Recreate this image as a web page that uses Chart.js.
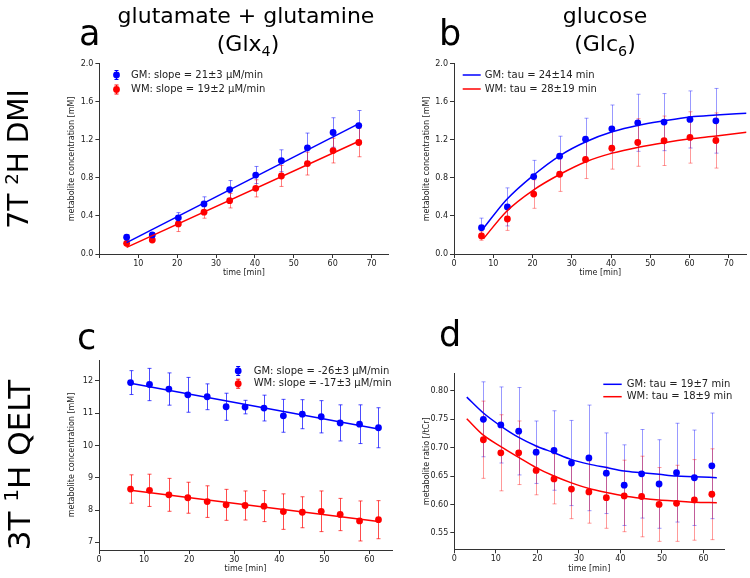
<!DOCTYPE html>
<html>
<head>
<meta charset="utf-8">
<script src="https://cdn.jsdelivr.net/npm/chart.js@4.4.1/dist/chart.umd.min.js"></script>
<style>
  body { margin: 0; width: 750px; height: 578px; background: #fff; position: relative; overflow: hidden;
         font-family: "DejaVu Sans", sans-serif; color: #000; }
  canvas { position: absolute; left: 0; top: 0; }
  .lbl { position: absolute; line-height: 1; white-space: nowrap; }
  .letter { font-size: 35px; }
  .ttl { font-size: 22px; transform: translateX(-50%); }
  .row { font-size: 28px; transform: translate(-50%, -50%) rotate(-90deg); }
  sub, sup { font-size: 0.65em; line-height: 0; }
</style>
</head>
<body>
<canvas id="chartA" width="750" height="578"></canvas>
<canvas id="chartB" width="750" height="578"></canvas>
<canvas id="chartC" width="750" height="578"></canvas>
<canvas id="chartD" width="750" height="578"></canvas>

<div class="lbl letter" style="left:79px; top:16px;">a</div>
<div class="lbl ttl" style="left:246px; top:5px;">glutamate + glutamine</div>
<div class="lbl ttl" style="left:248px; top:33px;">(Glx<sub>4</sub>)</div>
<div class="lbl letter" style="left:439px; top:16px;">b</div>
<div class="lbl ttl" style="left:605px; top:5px;">glucose</div>
<div class="lbl ttl" style="left:605px; top:33px;">(Glc<sub>6</sub>)</div>
<div class="lbl letter" style="left:77px; top:320px;">c</div>
<div class="lbl letter" style="left:439px; top:317px;">d</div>
<div class="lbl row" style="left:19px; top:159px;">7T <sup>2</sup>H DMI</div>
<div class="lbl row" style="left:19px; top:465px; font-size:31px;">3T <sup>1</sup>H QELT</div>

<script>
// ---- data ----
// top row: 7T 2H DMI, 10 time points
const timesTop = [7, 13.6, 20.3, 26.9, 33.5, 40.2, 46.8, 53.5, 60.1, 66.7];

// (a) Glx4 [mM]
const glxGM = [0.176, 0.20, 0.38, 0.526, 0.677, 0.83, 0.98, 1.116, 1.277, 1.35];
const glxGMErr = [0.025, 0.02, 0.055, 0.075, 0.095, 0.09, 0.115, 0.155, 0.155, 0.158];
const glxWM = [0.112, 0.147, 0.316, 0.44, 0.56, 0.69, 0.82, 0.95, 1.087, 1.172];
const glxWMErr = [0.03, 0.02, 0.08, 0.064, 0.076, 0.09, 0.11, 0.12, 0.13, 0.15];
const glxFitT = [7, 67];
const glxFitGM = [0.12, 1.375];
const glxFitWM = [0.07, 1.19];

// (b) Glc6 [mM]
const glcGM = [0.277, 0.495, 0.814, 1.028, 1.207, 1.316, 1.379, 1.386, 1.414, 1.40];
const glcGMErr = [0.10, 0.20, 0.17, 0.21, 0.22, 0.25, 0.30, 0.30, 0.30, 0.34];
const glcWM = [0.189, 0.368, 0.63, 0.838, 0.993, 1.112, 1.172, 1.19, 1.225, 1.193];
const glcWMErr = [0.045, 0.12, 0.15, 0.18, 0.20, 0.22, 0.25, 0.26, 0.27, 0.29];
const glcFitT = [7.5, 13.3, 20.3, 27, 33.6, 40.3, 47, 53.5, 60.2, 66.8, 74.5];
const glcFitGM = [0.27, 0.568, 0.83, 1.035, 1.18, 1.284, 1.354, 1.40, 1.44, 1.46, 1.48];
const glcFitWM = [0.16, 0.445, 0.674, 0.838, 0.97, 1.06, 1.123, 1.17, 1.21, 1.24, 1.28];

// bottom row: 3T 1H QELT, 14 time points
const timesBottom = [7, 11.2, 15.5, 19.7, 24, 28.2, 32.4, 36.6, 40.9, 45.1, 49.3, 53.5, 57.8, 62];

// (c) Glx [mM]
const qeltGM = [11.95, 11.89, 11.75, 11.57, 11.51, 11.2, 11.19, 11.16, 10.92, 10.97, 10.89, 10.70, 10.66, 10.55];
const qeltGMErr = [0.37, 0.5, 0.5, 0.54, 0.4, 0.42, 0.21, 0.4, 0.51, 0.45, 0.5, 0.56, 0.6, 0.62];
const qeltWM = [8.65, 8.61, 8.47, 8.38, 8.26, 8.16, 8.14, 8.12, 7.95, 7.93, 7.96, 7.86, 7.66, 7.70];
const qeltWMErr = [0.44, 0.5, 0.51, 0.48, 0.49, 0.48, 0.45, 0.48, 0.55, 0.48, 0.63, 0.5, 0.62, 0.59];
const qeltFitT = [7, 62];
const qeltFitGM = [11.93, 10.51];
const qeltFitWM = [8.61, 7.64];

// (d) ratio to tCr
const ratioGM = [0.750, 0.740, 0.729, 0.692, 0.695, 0.673, 0.682, 0.655, 0.634, 0.654, 0.636, 0.656, 0.647, 0.668];
const ratioGMErr = [0.066, 0.067, 0.077, 0.055, 0.07, 0.075, 0.093, 0.071, 0.071, 0.078, 0.078, 0.087, 0.084, 0.093];
const ratioWM = [0.714, 0.691, 0.691, 0.660, 0.645, 0.627, 0.622, 0.612, 0.615, 0.614, 0.600, 0.602, 0.608, 0.618];
const ratioWMErr = [0.068, 0.067, 0.056, 0.043, 0.044, 0.052, 0.055, 0.054, 0.063, 0.071, 0.065, 0.067, 0.071, 0.08];
const ratioFitT = [3, 7, 11.2, 15.5, 19.7, 24, 28.2, 32.4, 36.6, 40.9, 45.1, 49.3, 53.5, 57.8, 63.2];
const ratioFitGM = [0.789, 0.761, 0.738, 0.718, 0.703, 0.691, 0.679, 0.671, 0.665, 0.659, 0.656, 0.653, 0.650, 0.649, 0.647];
const ratioFitWM = [0.751, 0.722, 0.702, 0.683, 0.665, 0.650, 0.638, 0.628, 0.621, 0.615, 0.611, 0.608, 0.606, 0.604, 0.603];

// ---- styling ----
const FONT = '"DejaVu Sans", sans-serif';
const BLUE = '#0000ff';
const RED = '#ff0000';
Chart.defaults.font.family = FONT;
Chart.defaults.color = '#222';

function pts(xs, ys) {
    return xs.map((x, i) => ({ x: x, y: ys[i] }));
}

// vertical error bars with caps, drawn under the markers
const errorBars = {
    id: 'errorBars',
    beforeDatasetsDraw(chart) {
        const ctx = chart.ctx;
        const xs = chart.scales.x;
        const ys = chart.scales.y;
        chart.data.datasets.forEach(ds => {
            if (!ds.errors) return;
            ctx.save();
            ctx.strokeStyle = ds.errorColor;
            ctx.lineWidth = 1;
            ds.data.forEach((p, i) => {
                const e = ds.errors[i];
                const px = Math.round(xs.getPixelForValue(p.x)) + 0.5;
                const top = ys.getPixelForValue(p.y + e);
                const bot = ys.getPixelForValue(p.y - e);
                ctx.beginPath();
                ctx.moveTo(px, top); ctx.lineTo(px, bot);
                ctx.moveTo(px - 2, top); ctx.lineTo(px + 2, top);
                ctx.moveTo(px - 2, bot); ctx.lineTo(px + 2, bot);
                ctx.stroke();
            });
            ctx.restore();
        });
    }
};

// legend drawn inside the plot area
const panelLegend = {
    id: 'panelLegend',
    afterDraw(chart, args, opts) {
        const { ctx, chartArea } = chart;
        ctx.save();
        ctx.font = '10px ' + FONT;
        ctx.textBaseline = 'middle';
        opts.items.forEach((item, i) => {
            const x = chartArea.left + opts.left;
            const y = chartArea.top + opts.top + i * opts.gap;
            if (opts.kind === 'line') {
                ctx.strokeStyle = item.color;
                ctx.lineWidth = 1.5;
                ctx.beginPath();
                ctx.moveTo(x, y);
                ctx.lineTo(x + opts.lineWidth, y);
                ctx.stroke();
            } else {
                ctx.strokeStyle = item.color;
                ctx.lineWidth = 1;
                ctx.beginPath();
                ctx.moveTo(x + 0.5, y - 4.5); ctx.lineTo(x + 0.5, y + 4.5);
                ctx.moveTo(x - 1.5, y - 4.5); ctx.lineTo(x + 2.5, y - 4.5);
                ctx.moveTo(x - 1.5, y + 4.5); ctx.lineTo(x + 2.5, y + 4.5);
                ctx.stroke();
                ctx.fillStyle = item.color;
                ctx.beginPath();
                ctx.arc(x + 0.5, y, 3.4, 0, Math.PI * 2);
                ctx.fill();
            }
            ctx.fillStyle = '#222';
            ctx.fillText(item.text, x + opts.textOffset, y);
        });
        ctx.restore();
    }
};

function axis(o, title, size, horizontal) {
    return {
        type: 'linear',
        min: o.min,
        max: o.max,
        border: { display: true, color: '#333', width: 1 },
        grid: { drawOnChartArea: false, drawTicks: true, tickLength: 4, color: '#333' },
        ticks: {
            stepSize: o.step, includeBounds: false, autoSkip: false, maxRotation: 0,
            padding: horizontal ? 1 : 2, font: { size: 8 }, color: '#222',
            callback: o.fmt || (v => v)
        },
        title: { display: true, text: title, font: { size: 8 }, color: '#222', padding: { top: 4, bottom: 4 } },
        afterFit(s) {
            if (horizontal) s.height = size; else s.width = size;
            s.paddingLeft = 0; s.paddingRight = 0; s.paddingTop = 0; s.paddingBottom = 0;
        }
    };
}

function pointSet(xs, ys, errs, color, errColor) {
    return {
        data: pts(xs, ys), errors: errs, errorColor: errColor,
        showLine: false, pointRadius: 3.4, pointBackgroundColor: color, pointBorderWidth: 0,
        borderColor: color
    };
}

function fitSet(xs, ys, color, curved) {
    return {
        data: pts(xs, ys), showLine: true, pointRadius: 0, borderColor: color, borderWidth: 1.5,
        fill: false, cubicInterpolationMode: curved ? 'monotone' : 'default'
    };
}

// area = [left, top, right, bottom] of the plot box in page pixels
function makeChart(id, area, xOpts, yOpts, yTitle, datasets, legend) {
    const yW = 36, xH = 28;
    return new Chart(document.getElementById(id), {
        type: 'scatter',
        data: { datasets: datasets },
        options: {
            responsive: false,
            animation: false,
            layout: {
                autoPadding: false,
                padding: { left: area[0] - yW, top: area[1], right: 750 - area[2], bottom: 578 - area[3] - xH }
            },
            plugins: { legend: { display: false }, tooltip: { enabled: false }, panelLegend: legend },
            scales: {
                x: axis(xOpts, 'time [min]', xH, true),
                y: axis(yOpts, yTitle, yW, false)
            }
        },
        plugins: [errorBars, panelLegend]
    });
}

const concTitle = 'metabolite concentration [mM]';

makeChart('chartA', [99.4, 63.7, 388.3, 254],
    { min: 0, max: 74.3, step: 10, fmt: v => (v === 0 ? '' : v) },
    { min: 0, max: 2, step: 0.4, fmt: v => v.toFixed(1) },
    concTitle,
    [
        fitSet(glxFitT, glxFitGM, BLUE, false),
        fitSet(glxFitT, glxFitWM, RED, false),
        pointSet(timesTop, glxGM, glxGMErr, BLUE, 'rgba(0,0,255,0.5)'),
        pointSet(timesTop, glxWM, glxWMErr, RED, 'rgba(255,0,0,0.5)')
    ],
    { kind: 'marker', left: 16.6, top: 11.3, gap: 14.5, textOffset: 15, items: [
        { text: 'GM: slope = 21±3 μM/min', color: BLUE },
        { text: 'WM: slope = 19±2 μM/min', color: RED }
    ] });

makeChart('chartB', [454, 63.7, 746.5, 254],
    { min: 0, max: 74.5, step: 10 },
    { min: 0, max: 2, step: 0.4, fmt: v => v.toFixed(1) },
    concTitle,
    [
        fitSet(glcFitT, glcFitGM, BLUE, true),
        fitSet(glcFitT, glcFitWM, RED, true),
        pointSet(timesTop, glcGM, glcGMErr, BLUE, 'rgba(0,0,255,0.4)'),
        pointSet(timesTop, glcWM, glcWMErr, RED, 'rgba(255,0,0,0.4)')
    ],
    { kind: 'line', left: 8.7, top: 11.3, gap: 14, lineWidth: 18, textOffset: 22, items: [
        { text: 'GM: tau = 24±14 min', color: BLUE },
        { text: 'WM: tau = 28±19 min', color: RED }
    ] });

makeChart('chartC', [99, 360, 392, 550],
    { min: 0, max: 65, step: 10 },
    { min: 6.76, max: 12.65, step: 1 },
    concTitle,
    [
        fitSet(qeltFitT, qeltFitGM, BLUE, false),
        fitSet(qeltFitT, qeltFitWM, RED, false),
        pointSet(timesBottom, qeltGM, qeltGMErr, BLUE, 'rgba(0,0,255,0.7)'),
        pointSet(timesBottom, qeltWM, qeltWMErr, RED, 'rgba(255,0,0,0.7)')
    ],
    { kind: 'marker', left: 138.7, top: 11, gap: 12.7, textOffset: 16, items: [
        { text: 'GM: slope = -26±3 μM/min', color: BLUE },
        { text: 'WM: slope = -17±3 μM/min', color: RED }
    ] });

makeChart('chartD', [454.3, 373.3, 724.3, 549.3],
    { min: 0, max: 65, step: 10 },
    { min: 0.521, max: 0.831, step: 0.05, fmt: v => v.toFixed(2) },
    'metabolite ratio [/tCr]',
    [
        fitSet(ratioFitT, ratioFitGM, BLUE, true),
        fitSet(ratioFitT, ratioFitWM, RED, true),
        pointSet(timesBottom, ratioGM, ratioGMErr, BLUE, 'rgba(0,0,255,0.4)'),
        pointSet(timesBottom, ratioWM, ratioWMErr, RED, 'rgba(255,0,0,0.4)')
    ],
    { kind: 'line', left: 149, top: 11, gap: 12.4, lineWidth: 18.4, textOffset: 23.4, items: [
        { text: 'GM: tau = 19±7 min', color: BLUE },
        { text: 'WM: tau = 18±9 min', color: RED }
    ] });
</script>
</body>
</html>
